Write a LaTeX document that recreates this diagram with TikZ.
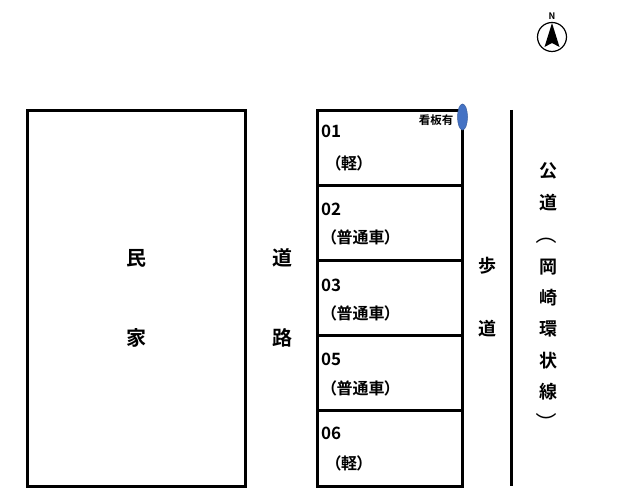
\documentclass[tikz,border=0pt]{standalone}
\usepackage{fontspec}
\setmainfont{Noto Sans CJK JP}[BoldFont={* Bold},RawFeature=+palt]
\usepackage{tikz}
\definecolor{signblue}{HTML}{4472C4}
\def\dwall{\draw[line width=3pt]}
\tikzset{
    lbl/.style={inner sep=0pt,font=\fontsize{20}{20}\selectfont\bfseries},
    num/.style={inner sep=0pt,anchor=west,font=\fontsize{17}{17}\selectfont\bfseries},
    kind/.style={inner sep=0pt,font=\fontsize{16}{16}\selectfont\bfseries},
    side/.style={inner sep=0pt,font=\fontsize{18}{18}\selectfont\bfseries},
    paren/.style={inner sep=0pt,rotate=-90,font=\fontsize{21}{21}\selectfont}
}

\begin{document}
\begin{tikzpicture}[x=1pt,y=-1pt]
                \useasboundingbox (0,0) rectangle (622,502);
                % house and parking
                \dwall (27.5,111) rectangle (245.5,486.5);
                \dwall (317.5,110.5) rectangle (462.5,486.5);
                \dwall (317.5,185.5) -- (462.5,185.5);
                \dwall (317.5,260.5) -- (462.5,260.5);
                \dwall (317.5,336) -- (462.5,336);
                \dwall (317.5,411) -- (462.5,411);
                \dwall (511.5,110) -- (511.5,486.5);
                \fill[signblue,draw=signblue!80!black,line width=0.5pt] (462.5,117) ellipse (5 and 13);
                % compass
                \draw[line width=1.2pt] (552,37) circle (14.5);
                \fill (552,23) -- (559.5,47) -- (552,43) -- (544.5,47) -- cycle;
                \node[inner sep=0pt,font=\fontsize{9}{9}\selectfont\bfseries] (north) at (552,16) {N};
                % labels
                \node[lbl] (min) at (136,258) {民};
                \node[lbl] (ka)  at (136,338) {家};
                \node[lbl] (do)  at (282,258) {道};
                \node[lbl] (ro)  at (282,338) {路};
                \node[inner sep=0pt,font=\fontsize{11.5}{11.5}\selectfont\bfseries] (sign) at (436,120) {看板有};
                \node[num] (n01) at (321,131) {01};
                \node[num] (n02) at (321,209) {02};
                \node[num] (n03) at (321,285) {03};
                \node[num] (n05) at (321,359) {05};
                \node[num] (n06) at (321,433) {06};
                \node[kind] (k01) at (349,163) {（軽）};
                \node[kind] (k02) at (360.5,237) {（普通車）};
                \node[kind] (k03) at (360.5,313) {（普通車）};
                \node[kind] (k05) at (360.5,388) {（普通車）};
                \node[kind] (k06) at (349,463) {（軽）};
                \node[side] (ho) at (487,266) {歩};
                \node[side] (dw) at (487,329) {道};
                \foreach \c/\y/\n in {公/171/a,道/203/b,岡/267/d,崎/298/e,環/329/f,状/361/g,線/392/h}
                    \node[side] (road\n) at (548,\y) {\c};
                \node[paren] (roadc) at (546,238) {（};
                \node[paren] (roadi) at (546,419) {）};
\end{tikzpicture}
\end{document}
